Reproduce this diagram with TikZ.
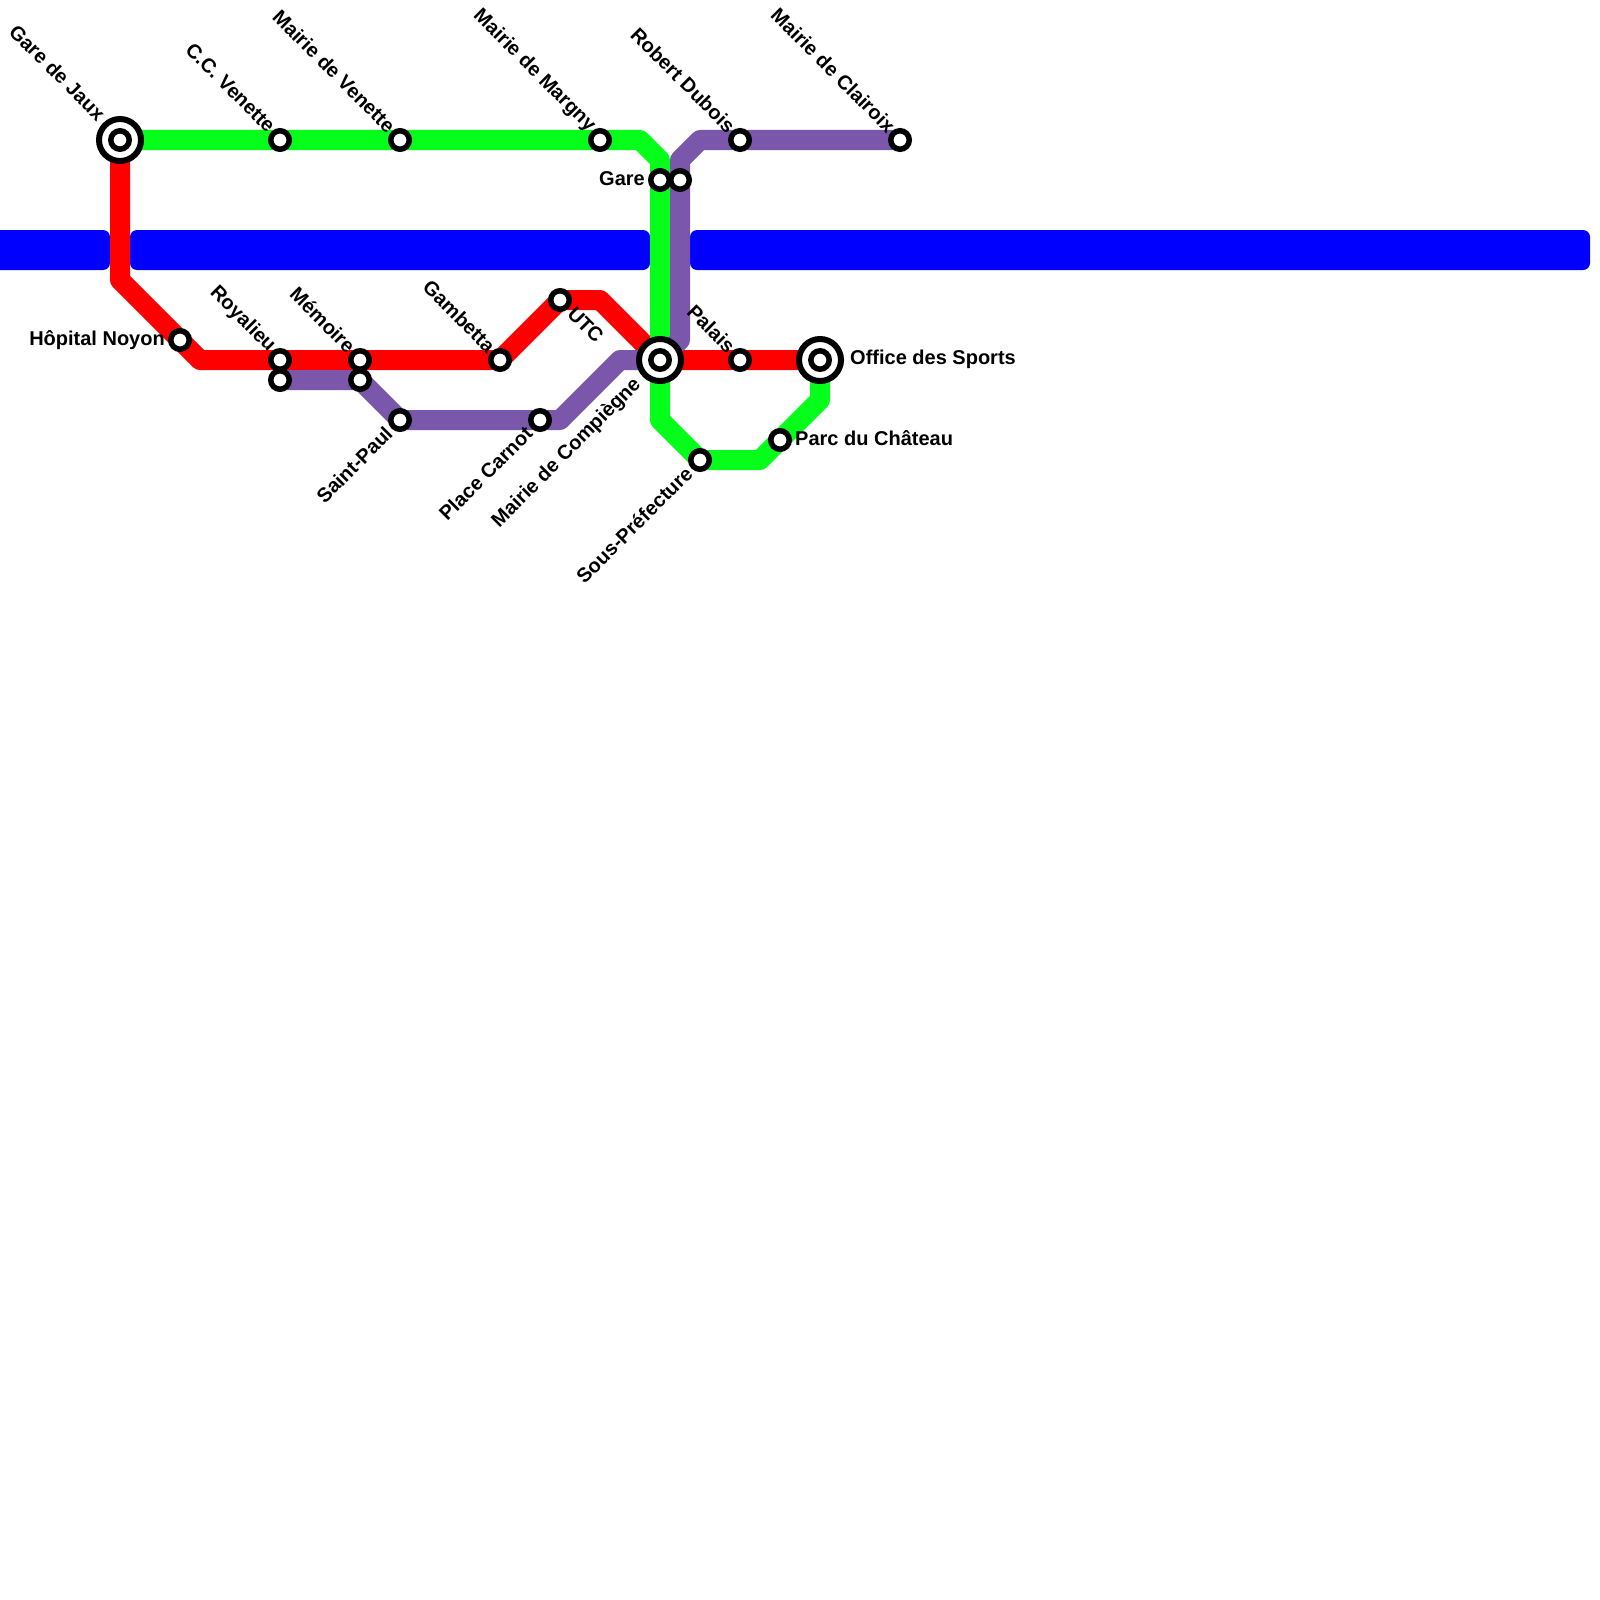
\documentclass[tikz,border=0pt]{standalone}
\usepackage{fontspec}
\setmainfont{Liberation Sans}
\usetikzlibrary{backgrounds}
\tikzset{
  stnnode/.style={circle, draw=black, fill=white, line width=5.5pt, minimum size=18.5pt, inner sep=0pt},
  hubnode/.style={circle, draw=black, fill=white, line width=6pt, minimum size=42pt, inner sep=0pt,
    path picture={\draw[black, line width=5.5pt] (path picture bounding box.center) circle (9.2pt);}},
  stnlbl/.style={font=\fontsize{20}{22}\selectfont\bfseries, inner sep=0pt, text=black},
  nwlbl/.style={stnlbl, xshift=-8pt, yshift=11pt, rotate=-45, anchor=east},
  swlbl/.style={stnlbl, xshift=-11pt, yshift=-10pt, rotate=45, anchor=east},
  redline/.style={draw=linered, line width=20pt, line join=round},
  greenline/.style={draw=linegreen, line width=20pt, line join=round},
  purpleline/.style={draw=linepurple, line width=20pt, line join=round},
  bluebar/.style={fill=barblue, rounded corners=7pt}
}
\definecolor{linered}{HTML}{FF0000}
\definecolor{linegreen}{HTML}{06FF1A}
\definecolor{linepurple}{HTML}{7A57AB}
\definecolor{barblue}{HTML}{0000FF}
\begin{document}
\begin{tikzpicture}[x=1pt, y=-1pt]
  \useasboundingbox (0,0) rectangle (1600,1600);
  % stations
  \node[hubnode] (jaux) at (120,140) {};
  \node[stnnode] (ccvenette) at (280,140) {};
  \node[stnnode] (mvenette) at (400,140) {};
  \node[stnnode] (margny) at (600,140) {};
  \node[stnnode] (garea) at (660,180) {};
  \node[stnnode] (gareb) at (680,180) {};
  \node[stnnode] (dubois) at (740,140) {};
  \node[stnnode] (clairoix) at (900,140) {};
  \node[stnnode] (noyon) at (180,340) {};
  \node[stnnode] (royala) at (280,360) {};
  \node[stnnode] (royalb) at (280,380) {};
  \node[stnnode] (memoa) at (360,360) {};
  \node[stnnode] (memob) at (360,380) {};
  \node[stnnode] (stpaul) at (400,420) {};
  \node[stnnode] (gambetta) at (500,360) {};
  \node[stnnode] (utc) at (560,300) {};
  \node[stnnode] (carnot) at (540,420) {};
  \node[hubnode] (compiegne) at (660,360) {};
  \node[stnnode] (palais) at (740,360) {};
  \node[hubnode] (sports) at (820,360) {};
  \node[stnnode] (chateau) at (780,440) {};
  \node[stnnode] (prefecture) at (700,460) {};
  % labels
  \node[xshift=-10pt, yshift=12pt, nwlbl] (tjaux) at (jaux) {Gare de Jaux};
  \node[nwlbl] (tccvenette) at (ccvenette) {C.C. Venette};
  \node[nwlbl] (tmvenette) at (mvenette) {Mairie de Venette};
  \node[nwlbl] (tmargny) at (margny) {Mairie de Margny};
  \node[nwlbl] (tdubois) at (dubois) {Robert Dubois};
  \node[nwlbl] (tclairoix) at (clairoix) {Mairie de Clairoix};
  \node[nwlbl] (troyal) at (royala) {Royalieu};
  \node[nwlbl] (tmemo) at (memoa) {Mémoire};
  \node[nwlbl] (tgambetta) at (gambetta) {Gambetta};
  \node[nwlbl] (tpalais) at (palais) {Palais};
  \node[swlbl] (tstpaul) at (stpaul) {Saint-Paul};
  \node[swlbl] (tcarnot) at (carnot) {Place Carnot};
  \node[xshift=-11pt, yshift=-12pt, swlbl] (tcompiegne) at (compiegne) {Mairie de Compiègne};
  \node[swlbl] (tprefecture) at (prefecture) {Sous-Préfecture};
  \node[stnlbl, anchor=east, xshift=-15pt, yshift=0pt] (tnoyon) at (noyon) {Hôpital Noyon};
  \node[stnlbl, anchor=east, xshift=-15pt, yshift=1pt] (tgare) at (garea) {Gare};
  \node[stnlbl, anchor=west, xshift=30pt, yshift=1pt] (tsports) at (sports) {Office des Sports};
  \node[stnlbl, anchor=west, xshift=15pt, yshift=2pt] (tchateau) at (chateau) {Parc du Château};
  \node[stnlbl, xshift=11pt, yshift=-10pt, rotate=-45, anchor=west] (tutc) at (utc) {UTC};
  % lines
  \begin{scope}[on background layer]
    \fill[bluebar] (-20,230) rectangle (110,270);
    \fill[bluebar] (130,230) rectangle (650,270);
    \fill[bluebar] (690,230) rectangle (1590,270);
    \draw[redline] (jaux.center) -- (120,280) -- (noyon.center) -- (200,360) -- (royala.center)
      -- (memoa.center) -- (gambetta.center) -- (utc.center) -- (600,300) -- (compiegne.center)
      -- (palais.center) -- (sports.center);
    \draw[greenline] (jaux.center) -- (ccvenette.center) -- (mvenette.center) -- (margny.center)
      -- (640,140) -- (660,160) -- (garea.center) -- (compiegne.center) -- (660,420) -- (prefecture.center)
      -- (760,460) -- (chateau.center) -- (820,400) -- (sports.center);
    \draw[purpleline] (clairoix.center) -- (dubois.center) -- (700,140) -- (680,160) -- (gareb.center)
      -- (680,340) -- (compiegne.center) -- (620,360) -- (560,420) -- (carnot.center) -- (stpaul.center)
      -- (memob.center) -- (royalb.center);
  \end{scope}
\end{tikzpicture}
\end{document}
